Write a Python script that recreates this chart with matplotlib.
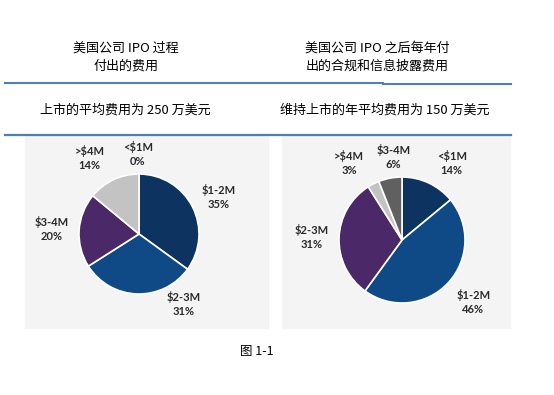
import matplotlib.pyplot as plt
from matplotlib.patches import Rectangle
from matplotlib.lines import Line2D

plt.rcParams['font.family'] = ['Noto Sans CJK SC', 'DejaVu Sans']

# data
left_labels = ['<$1M', '$1-2M', '$2-3M', '$3-4M', '>$4M']
left_values = [0, 35, 31, 20, 14]
right_labels = ['<$1M', '$1-2M', '$2-3M', '>$4M', '$3-4M']
right_values = [14, 46, 31, 3, 6]

left_title = '美国公司 IPO 过程\n付出的费用'
right_title = '美国公司 IPO 之后每年付\n出的合规和信息披露费用'
left_sub = '上市的平均费用为 250 万美元'
right_sub = '维持上市的年平均费用为 150 万美元'
caption = '图 1-1'

navy = '#0d3460'
blue = '#0f4a86'
purple = '#4b2867'
lgray = '#c3c3c3'
dgray = '#606060'
left_colors = [navy, navy, blue, purple, lgray]
right_colors = [navy, blue, purple, lgray, dgray]

# label positions in radius units (layout only)
left_pos = [(-0.02, 1.33), (1.33, 0.62), (0.75, -1.17), (-1.45, 0.08), (-0.82, 1.27)]
right_pos = [(0.79, 1.22), (1.13, -0.98), (-1.43, 0.05), (-0.84, 1.22), (-0.14, 1.32)]

W, H = 554, 395
fig = plt.figure(figsize=(W / 100, H / 100), dpi=100)


def fx(px):
    return px / W


def fy(py):
    return 1 - py / H


# gray panels
for x0, x1 in [(25, 268), (282, 510)]:
    fig.patches.append(Rectangle((fx(x0), fy(328)), fx(x1 - x0), (328 - 136) / H,
                                 transform=fig.transFigure, color='#f4f4f4', zorder=-5))

# blue rules
line_c = '#4f7fba'
fig.add_artist(Line2D([fx(5), fx(383)], [fy(83), fy(83)], color=line_c, lw=1.5))
fig.add_artist(Line2D([fx(383), fx(511)], [fy(84), fy(84)], color=line_c, lw=1.5))
fig.add_artist(Line2D([fx(5), fx(511)], [fy(134.5), fy(134.5)], color=line_c, lw=1.6))

fig.text(fx(126), fy(57), left_title, ha='center', va='center', fontsize=9.4, linespacing=1.55)
fig.text(fx(377), fy(57), right_title, ha='center', va='center', fontsize=9.4, linespacing=1.55)
fig.text(fx(125), fy(110), left_sub, ha='center', va='center', fontsize=9.4)
fig.text(fx(385), fy(110), right_sub, ha='center', va='center', fontsize=9.4)
fig.text(fx(257), fy(352), caption, ha='center', va='center', fontsize=9)


def draw_pie(cx, cy, r, values, colors, labels, pos):
    half = 100
    ax = fig.add_axes([fx(cx - half), fy(cy + half), fx(2 * half), 2 * half / H])
    ax.set_zorder(2)
    ax.pie(values, colors=colors, startangle=90, counterclock=False, radius=1,
           wedgeprops=dict(edgecolor='white', linewidth=1.2))
    lim = half / r
    ax.set_xlim(-lim, lim)
    ax.set_ylim(-lim, lim)
    ax.set_aspect('auto')
    ax.axis('off')
    for lab, v, (tx, ty) in zip(labels, values, pos):
        ax.text(tx, ty, f'{lab}\n{v}%', ha='center', va='center', fontsize=8,
                family=['Lato', 'DejaVu Sans'], fontweight='bold',
                color='#2a2a2a', linespacing=1.35)


draw_pie(139, 234, 60, left_values, left_colors, left_labels, left_pos)
draw_pie(402, 240, 63, right_values, right_colors, right_labels, right_pos)

fig.savefig('out.png', dpi=100)
